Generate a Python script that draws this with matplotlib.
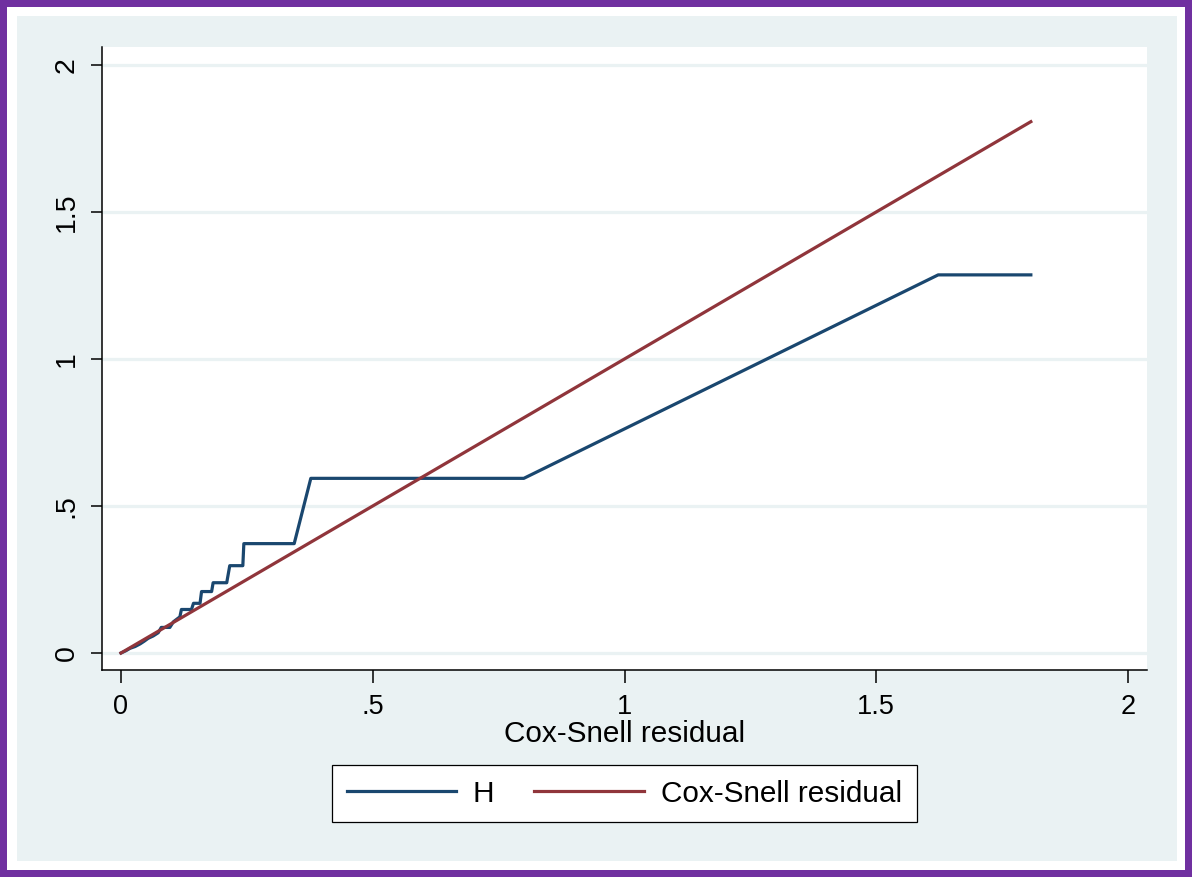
import matplotlib
matplotlib.use("Agg")
import matplotlib.pyplot as plt
from matplotlib.patches import Rectangle

# ---- data ----
cs = [0.000, 0.010, 0.018, 0.028, 0.038, 0.046, 0.054, 0.064, 0.074, 0.080,
      0.097, 0.104, 0.117, 0.120, 0.140, 0.144, 0.157, 0.160, 0.180, 0.183,
      0.210, 0.216, 0.242, 0.244, 0.344, 0.377, 0.800, 1.623, 1.807]
H = [0.000, 0.008, 0.016, 0.022, 0.031, 0.040, 0.050, 0.058, 0.069, 0.087,
     0.087, 0.106, 0.123, 0.148, 0.148, 0.169, 0.169, 0.209, 0.209, 0.239,
     0.239, 0.297, 0.297, 0.372, 0.372, 0.594, 0.594, 1.286, 1.286]
cs_ref = [0.000, 1.807]
xticks = [0, 0.5, 1, 1.5, 2]
xtick_labels = ["0", ".5", "1", "1.5", "2"]
yticks = [0, 0.5, 1, 1.5, 2]
ytick_labels = ["0", ".5", "1", "1.5", "2"]

plt.rcParams['font.family'] = ['Liberation Sans', 'DejaVu Sans']

W, Hh = 1192, 877
fig = plt.figure(figsize=(W / 100, Hh / 100), dpi=100)
fig.patch.set_facecolor('#7030A0')

def frect(x0, y0, x1, y1, color, z):
    fig.patches.append(Rectangle((x0 / W, 1 - y1 / Hh), (x1 - x0) / W, (y1 - y0) / Hh,
                                 transform=fig.transFigure, facecolor=color,
                                 edgecolor='none', zorder=z))

frect(7, 7, 1185, 870, 'white', -3)
frect(17, 16, 1177, 861, '#EAF2F3', -2)

ax = fig.add_axes([102 / W, 1 - 670 / Hh, (1147 - 102) / W, (670 - 47) / Hh])
ax.set_facecolor('white')

blue = '#1A476F'
red = '#90353B'
l1, = ax.plot(cs, H, color=blue, lw=2.3, label='H', zorder=3)
l2, = ax.plot(cs_ref, cs_ref, color=red, lw=2.3, label='Cox-Snell residual', zorder=3)

ax.set_xlim(-0.0377, 2.0377)
ax.set_ylim(-0.0578, 2.061)
ax.set_xticks(xticks)
ax.set_xticklabels(xtick_labels)
ax.set_yticks(yticks)
ax.set_yticklabels(ytick_labels, rotation=90, va='center')
ax.yaxis.grid(True, color='#EAF2F3', lw=2.3, zorder=0)
ax.set_axisbelow(True)

for s in ['top', 'right']:
    ax.spines[s].set_visible(False)
for s in ['left', 'bottom']:
    ax.spines[s].set_linewidth(1.1)
    ax.spines[s].set_color('black')

ax.tick_params(axis='x', direction='out', length=9, width=1.1,
               labelsize=19.5, colors='black', pad=8)
ax.tick_params(axis='y', direction='out', length=8, width=1.1,
               labelsize=20.5, colors='black', pad=8)
ax.set_xlabel('Cox-Snell residual', fontsize=21.4, labelpad=0)

leg = fig.legend(handles=[l1, l2], loc='center',
                 bbox_to_anchor=(624.2 / W, 1 - 793.5 / Hh), ncol=2,
                 fontsize=21.4, frameon=True, fancybox=False, framealpha=1,
                 handlelength=3.7, handletextpad=0.55, columnspacing=1.35,
                 borderpad=0.5)
leg.get_frame().set_edgecolor('black')
leg.get_frame().set_linewidth(0.9)
leg.get_frame().set_facecolor('white')

fig.savefig('out.png', dpi=100, facecolor=fig.get_facecolor())
